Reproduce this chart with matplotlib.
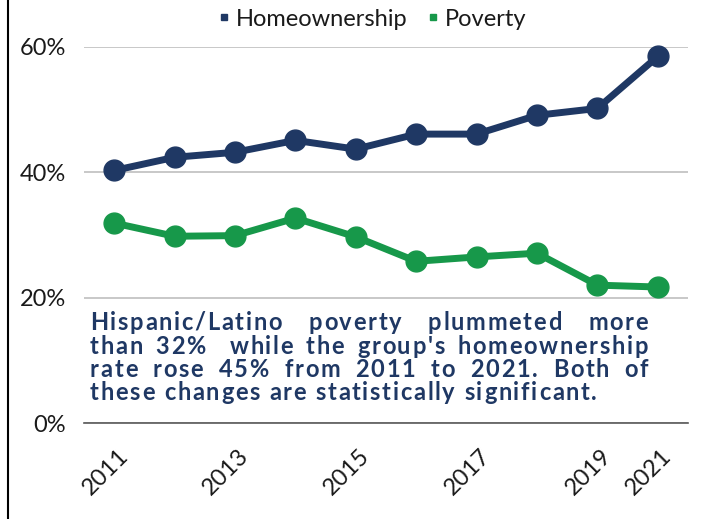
import matplotlib
matplotlib.use("Agg")
import matplotlib.pyplot as plt
from matplotlib.font_manager import FontProperties
from matplotlib.lines import Line2D
from matplotlib.ticker import PercentFormatter
from matplotlib.transforms import ScaledTranslation

# data (2020 is missing from the source)
years = ["2011", "2012", "2013", "2014", "2015", "2016", "2017", "2018", "2019", "2021"]
shown_years = ["2011", "2013", "2015", "2017", "2019", "2021"]
homeownership = [40.3, 42.4, 43.2, 45.1, 43.7, 46.1, 46.1, 49.1, 50.2, 58.5]
poverty = [31.9, 29.8, 29.9, 32.7, 29.7, 25.8, 26.5, 27.1, 22.0, 21.7]

note_lines = [
    "Hispanic/Latino poverty plummeted more",
    "than 32%  while the group's homeownership",
    "rate rose 45% from 2011 to 2021. Both of",
    "these changes are statistically significant.",
]

NAVY = "#1f3864"
GREEN = "#17984a"
W, H = 702, 519

plt.rcParams.update({
    "font.family": ["Lato", "DejaVu Sans"],
    "font.size": 17,
    "text.color": "#1a1a1a",
})

fig = plt.figure(figsize=(W / 100, H / 100), dpi=100)
ax = fig.add_axes([84 / W, 1 - 423 / H, (688 - 84) / W, (423 - 47) / H])

x = list(range(len(years)))
ax.plot(x, homeownership, "-o", color=NAVY, lw=5, ms=15, clip_on=False, zorder=3)
ax.plot(x, poverty, "-o", color=GREEN, lw=5, ms=15, clip_on=False, zorder=3)

ax.set_xlim(-0.5, len(years) - 0.5)
ax.set_ylim(0, 60)
ax.set_yticks([0, 20, 40, 60])
ax.yaxis.set_major_formatter(PercentFormatter(decimals=0))
ax.grid(axis="y", color="#bfbfbf", lw=1.2)
ax.set_axisbelow(True)

ax.set_xticks(x)
ax.set_xticklabels([y if y in shown_years else "" for y in years],
                   rotation=45, ha="right", rotation_mode="anchor")
ax.tick_params(axis="x", length=0, pad=16, labelsize=17, colors="#1a1a1a")
ax.tick_params(axis="y", length=0, pad=13, labelsize=17, colors="#1a1a1a")
shift = ScaledTranslation(3 / 100, 0, fig.dpi_scale_trans)
for lab in ax.get_xticklabels():
    lab.set_transform(lab.get_transform() + shift)

for side in ["top", "right", "left"]:
    ax.spines[side].set_visible(False)
ax.spines["bottom"].set_color("#595959")
ax.spines["bottom"].set_linewidth(1.2)

# legend with small square markers
handles = [
    Line2D([], [], ls="none", marker="s", ms=5, color=NAVY, label="Homeownership"),
    Line2D([], [], ls="none", marker="s", ms=5, color=GREEN, label="Poverty"),
]
fig.legend(handles=handles, loc="center", bbox_to_anchor=(372 / W, 1 - 19 / H),
           ncol=2, frameon=False, fontsize=17, handletextpad=0.2,
           columnspacing=0.78, handlelength=0.6)

# left border line
fig.add_artist(Line2D([8 / W, 8 / W], [0, 1], color="black", lw=1.5,
                      transform=fig.transFigure))

# justified, letter-spaced note drawn char by char
renderer = fig.canvas.get_renderer()
fp = FontProperties(family="Lato", weight="bold", size=17)


def text_w(s):
    return renderer.get_text_width_height_descent(s, fp, ismath=False)[0]


space_w = text_w("a b") - text_w("ab")
left, right = 90, 648
last = note_lines[-1]
natural = sum(space_w if c == " " else text_w(c) for c in last)
tracking = (597 - left - natural) / (len(last) - 1)
baselines = [330, 354, 377, 400]

for i, (line, base) in enumerate(zip(note_lines, baselines)):
    widths = [space_w if c == " " else text_w(c) for c in line]
    total = sum(widths) + tracking * (len(line) - 1)
    n_sp = line.count(" ")
    extra = 0 if i == len(note_lines) - 1 else (right - left - total) / n_sp
    xpos = left
    for c, w in zip(line, widths):
        if c != " ":
            fig.text(xpos / W, 1 - base / H, c, fontproperties=fp, color=NAVY,
                     ha="left", va="baseline")
            xpos += w + tracking
        else:
            xpos += w + tracking + extra

fig.savefig("out.png", dpi=100)
